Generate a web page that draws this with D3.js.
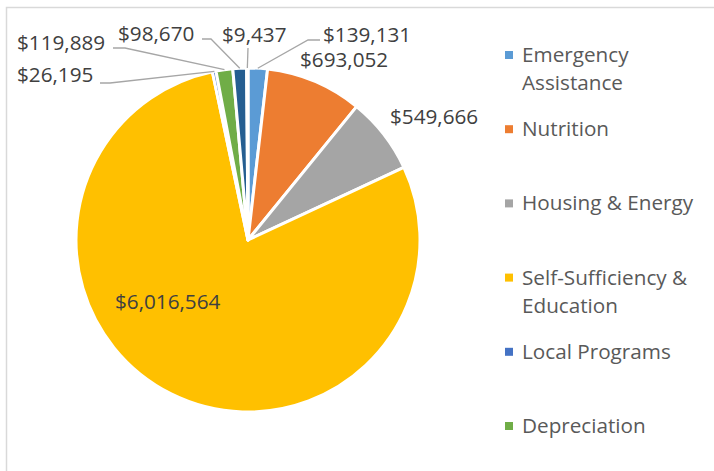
<!DOCTYPE html>
<html>
<head>
<meta charset="utf-8">
<script src="https://cdn.jsdelivr.net/npm/d3@7"></script>
<style>
  html, body { margin: 0; padding: 0; background: #fff; }
  svg { display: block; }
  text { font-family: "Open Sans", "Noto Sans", sans-serif; }
</style>
</head>
<body>
<svg id="chart" width="714" height="471"></svg>
<script>
// ---- data ----
const categories = ["Emergency Assistance", "Nutrition", "Housing & Energy",
  "Self-Sufficiency & Education", "Local Programs", "Depreciation", "Other 1", "Other 2"];
const values = [139131, 693052, 549666, 6016564, 26195, 119889, 98670, 9437];
const colors = ["#5B9BD5", "#ED7D31", "#A5A5A5", "#FFC000", "#4472C4", "#70AD47", "#255E91", "#9E480E"];
const legendCategories = categories.slice(0, 6);
const legendLines = [["Emergency", "Assistance"], ["Nutrition"], ["Housing & Energy"],
  ["Self-Sufficiency &", "Education"], ["Local Programs"], ["Depreciation"]];

// ---- label layout (text anchor + leader elbow points) ----
const labelLayout = [
  { x: 323, y: 42, leader: [[320, 40], [308, 40]] },      // 139,131
  { x: 300, y: 67, leader: null },                        // 693,052
  { x: 390, y: 124, leader: null },                       // 549,666
  { x: 115, y: 309, leader: null },                       // 6,016,564
  { x: 17,  y: 82, leader: [[100, 83], [110, 83]] },      // 26,195
  { x: 17,  y: 50, leader: [[113, 48], [125, 48]] },      // 119,889
  { x: 118, y: 41, leader: [[202, 39], [211, 39]] },      // 98,670
  { x: 222, y: 42, leader: [[248, 48]] }                  // 9,437
];

const W = 714, H = 471;
const cx = 248, cy = 240, R = 172;
const svg = d3.select("#chart");

// chart border
svg.append("rect")
  .attr("x", 6.5).attr("y", 7.5)
  .attr("width", 760).attr("height", 520)
  .attr("fill", "none").attr("stroke", "#D9D9D9").attr("stroke-width", 1.5);

const fmt = v => "$" + d3.format(",")(v);

const pie = d3.pie().sort(null).value(d => d)
  .startAngle(0).endAngle(2 * Math.PI);
const arcs = pie(values);
const arc = d3.arc().innerRadius(0).outerRadius(R);

const g = svg.append("g").attr("transform", `translate(${cx},${cy})`);
g.selectAll("path.slice")
  .data(arcs)
  .join("path")
  .attr("class", "slice")
  .attr("d", arc)
  .attr("fill", (d, i) => colors[i])
  .attr("stroke", "#fff")
  .attr("stroke-width", 3)
  .attr("stroke-linejoin", "round");

// leader lines
const edgeArc = d3.arc().innerRadius(R - 1).outerRadius(R - 1);
arcs.forEach((a, i) => {
  const lay = labelLayout[i];
  if (!lay.leader) return;
  const c = edgeArc.centroid(a);
  const start = [cx + c[0], cy + c[1] - 1];
  const pts = [...lay.leader, start];
  svg.append("path")
    .attr("d", d3.line()(pts))
    .attr("fill", "none")
    .attr("stroke", "#A6A6A6")
    .attr("stroke-width", 1.3);
});

// data labels
svg.selectAll("text.dlabel")
  .data(arcs)
  .join("text")
  .attr("class", "dlabel")
  .attr("x", (d, i) => labelLayout[i].x)
  .attr("y", (d, i) => labelLayout[i].y)
  .attr("font-size", "20.7px")
  .attr("fill", "#404040")
  .text(d => fmt(d.value));

// legend
const ly = d3.scalePoint().domain(legendCategories).range([55, 426]);
const leg = svg.append("g");
legendCategories.forEach((c, i) => {
  const y = ly(c);
  leg.append("rect")
    .attr("x", 505).attr("y", y - 4)
    .attr("width", 8).attr("height", 8)
    .attr("fill", colors[i]);
  legendLines[i].forEach((t, j) => {
    leg.append("text")
      .attr("x", 522).attr("y", y + 7 + j * 28)
      .attr("font-size", "20.7px")
      .attr("fill", "#595959")
      .text(t);
  });
});
</script>
</body>
</html>
